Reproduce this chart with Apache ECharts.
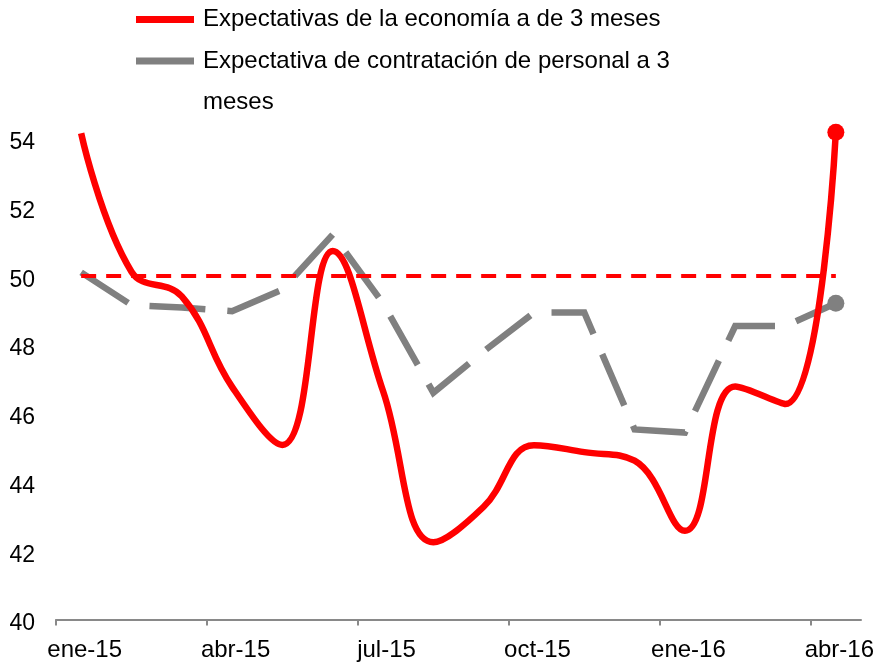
<!DOCTYPE html>
<html>
<head>
<meta charset="utf-8">
<script src="https://cdn.jsdelivr.net/npm/echarts@6/dist/echarts.min.js"></script>
<style>
html,body{margin:0;padding:0;background:#ffffff;}
#chart{width:877px;height:662px;}
</style>
</head>
<body>
<div id="chart"></div>
<script>
// ---- data ----
const categories = ['ene-15','feb-15','mar-15','abr-15','may-15','jun-15','jul-15','ago-15','sep-15','oct-15','nov-15','dic-15','ene-16','feb-16','mar-16','abr-16'];
const economia = [54.15, 50.12, 49.4, 46.77, 45.08, 50.72, 46.65, 42.25, 43.28, 45.07, 44.87, 44.62, 42.58, 46.78, 46.27, 54.18];
const contratacion = [50.1, 49.15, 49.08, 48.97, 49.6, 51.2, 49.2, 46.6, 47.8, 48.93, 48.93, 45.53, 45.44, 48.54, 48.54, 49.2];
const threshold = 50;
const seriesNames = ['Expectativas de la economía a de 3 meses', 'Expectativa de contratación de personal a 3'];
const legendWrap = 'meses';
const yMin = 40, yMax = 56, yStep = 2;
const tickPositions = [0, 3, 6, 9, 12, 15];

const FONT = "'Liberation Sans', Arial, sans-serif";

function lastMarked(arr, color) {
  return arr.map((v, i) => i === arr.length - 1
    ? { value: v, symbol: 'circle', symbolSize: 17, itemStyle: { color: color } }
    : { value: v, symbol: 'none' });
}

const chart = echarts.init(document.getElementById('chart'), null, { renderer: 'canvas' });
chart.setOption({
  animation: false,
  backgroundColor: '#ffffff',
  textStyle: { fontFamily: FONT },
  grid: { left: 56, right: 16, top: 69.6, bottom: 42.5, containLabel: false, outerBoundsMode: 'none' },
  legend: {
    orient: 'vertical',
    left: 136,
    top: 7.5,
    padding: 0,
    itemGap: 17.5,
    itemWidth: 58,
    itemHeight: 7,
    icon: 'rect',
    selectedMode: false,
    textStyle: { fontFamily: FONT, fontSize: 24, color: '#000000', padding: [0, 0, 0, 4] },
    data: [
      { name: seriesNames[0], itemStyle: { color: '#ff0000' } },
      { name: seriesNames[1], itemStyle: { color: '#808080' } }
    ]
  },
  graphic: [{
    type: 'text',
    left: 203,
    top: 90,
    style: { text: legendWrap, font: "24px 'Liberation Sans', Arial, sans-serif", fill: '#000000' }
  }],
  xAxis: [{
    type: 'category',
    data: categories,
    boundaryGap: true,
    axisLine: { show: false },
    axisTick: { show: false },
    axisLabel: {
      interval: 2,
      fontFamily: FONT,
      fontSize: 24,
      color: '#000000',
      margin: 18.5,
      padding: [0, 0, 0, 7]
    },
    splitLine: { show: false }
  }, {
    type: 'value',
    min: 0,
    max: categories.length,
    position: 'bottom',
    axisLine: { show: true, onZero: false, lineStyle: { color: '#898989', width: 2 } },
    axisTick: { show: true, customValues: tickPositions, length: 6, lineStyle: { color: '#898989', width: 2 } },
    axisLabel: { show: false },
    splitLine: { show: false }
  }],
  yAxis: {
    type: 'value',
    min: yMin,
    max: yMax,
    interval: yStep,
    axisLine: { show: false },
    axisTick: { show: false },
    splitLine: { show: false },
    axisLabel: {
      fontFamily: FONT,
      fontSize: 23,
      color: '#000000',
      margin: 21,
      showMaxLabel: false,
      verticalAlign: 'top',
      lineHeight: 9
    }
  },
  series: [
    {
      name: seriesNames[1],
      type: 'line',
      xAxisIndex: 0,
      data: lastMarked(contratacion, '#808080'),
      showSymbol: true,
      symbol: 'none',
      lineStyle: { color: '#808080', width: 6.5, type: [56, 22], cap: 'butt', join: 'miter' },
      itemStyle: { color: '#808080' },
      z: 2
    },
    {
      name: seriesNames[0],
      type: 'line',
      xAxisIndex: 0,
      data: lastMarked(economia, '#ff0000'),
      smooth: 0.42,
      showSymbol: true,
      symbol: 'none',
      lineStyle: { color: '#ff0000', width: 6.5 },
      itemStyle: { color: '#ff0000' },
      markLine: {
        silent: true,
        symbol: 'none',
        label: { show: false },
        lineStyle: { color: '#ff0000', width: 4, type: [15, 10] },
        data: [[
          { coord: [categories[0], threshold] },
          { coord: [categories[categories.length - 1], threshold] }
        ]]
      },
      z: 3
    }
  ]
});
</script>
</body>
</html>
